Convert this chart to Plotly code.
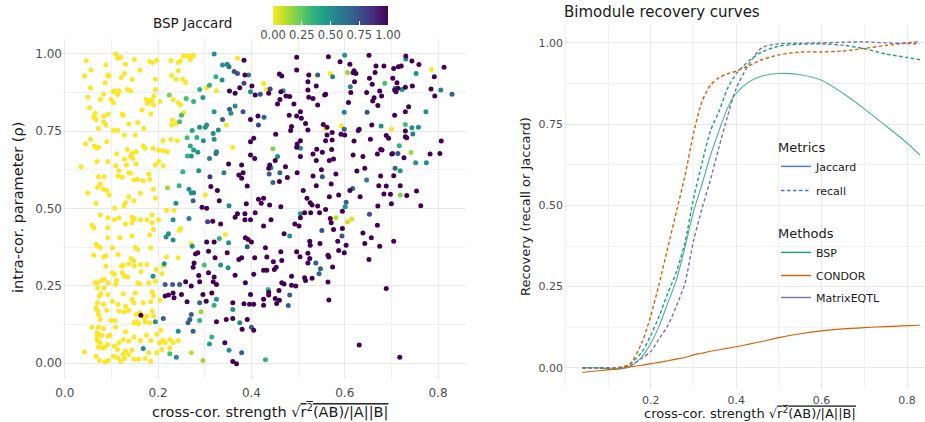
import plotly.graph_objects as go

W, H = 925, 422

# ------------------------------------------------------------------
# Left panel: simulated bimodules, coloured by BSP Jaccard
# ------------------------------------------------------------------
# modules not recovered by BSP (Jaccard 0)
low_x = [
    .109, .120, .113, .046, .088, .130, .149, .182, .187, .197,
    .227, .243, .248, .255, .264, .271, .276, .269, .056, .092,
    .095, .128, .161, .042, .121, .144, .194, .229, .243, .239,
    .253, .259, .086, .055, .106, .113, .104, .134, .116, .141,
    .194, .083, .049, .076, .099, .104, .174, .177, .183, .187,
    .190, .204, .232, .243, .191, .053, .065, .062, .067, .083,
    .093, .123, .125, .165, .184, .083, .088, .137, .156, .072,
    .104, .113, .169, .128, .151, .231, .229, .255, .248, .239,
    .325, .304, .055, .044, .063, .069, .072, .090, .111, .134,
    .168, .172, .153, .189, .210, .227, .241, .201, .211, .220,
    .144, .141, .128, .146, .069, .092, .035, .109, .132, .153,
    .194, .201, .211, .072, .076, .083, .070, .090, .095, .049,
    .116, .114, .123, .137, .141, .148, .156, .168, .180, .182,
    .162, .190, .137, .130, .127, .148, .107, .194, .067, .360,
    .346, .301, .084,
    .370, .426, .432, .700, .558, .593, .786, .569,
    .076, .092, .106, .116, .144, .149, .162, .176, .187, .187,
    .190, .201, .218, .234, .058, .062, .092, .130, .144, .245,
    .248, .182, .092, .118, .144, .067, .070, .076, .102, .151,
    .156, .184, .114, .062, .083, .088, .142, .148, .218, .243,
    .088, .121, .125, .137, .149, .162, .176, .211, .102, .106,
    .123, .128, .135, .163, .196, .208, .079, .084, .070, .065,
    .093, .111, .156, .161, .180, .194, .070, .084, .092, .077,
    .109, .125, .151, .187, .190, .074, .070, .083, .067, .090,
    .102, .114, .130, .144, .148, .168, .184, .204, .070, .072,
    .076, .099, .107, .116, .127, .137, .153, .161, .170, .176,
    .187, .190, .148, .153, .158, .172, .182, .058, .072, .083,
    .069, .070, .079, .069, .070, .076, .092, .097, .109, .116,
    .125, .130, .137, .148, .162, .175, .184, .197, .206, .225,
    .243, .210, .203, .232, .072, .081, .086, .092, .106, .113,
    .130, .144, .042, .067, .074, .086, .093, .113, .125, .128,
    .137, .148, .158, .172, .180, .184, .104, .120, .215, .197,
    .208, .225, .344, .271,
]
low_rho = [
    1.000, .989, .986, .978, .964, .967, .982, .975, .972, .980,
    .978, .972, .978, .993, .993, .993, .994, .982, .948, .932,
    .929, .937, .948, .929, .924, .918, .918, .930, .946, .918,
    .918, .908, .907, .891, .881, .869, .878, .885, .881, .881,
    .885, .870, .860, .853, .853, .842, .853, .840, .851, .849,
    .835, .846, .853, .842, .864, .826, .808, .795, .788, .799,
    .806, .806, .802, .819, .806, .781, .770, .773, .778, .759,
    .752, .752, .759, .738, .738, .786, .770, .810, .835, .775,
    .881, .891, .724, .709, .702, .695, .698, .716, .676, .691,
    .702, .695, .684, .695, .719, .724, .719, .689, .687, .684,
    .678, .668, .659, .662, .652, .652, .635, .638, .641, .644,
    .641, .652, .638, .603, .579, .562, .569, .558, .544, .549,
    .622, .605, .601, .616, .614, .592, .594, .590, .612, .594,
    .549, .562, .538, .519, .508, .525, .501, .533, .517, .698,
    .770, .544, .603,
    .986, .905, .885, .756, .759, .767, .950, .937,
    .479, .470, .464, .470, .472, .468, .464, .464, .479, .454,
    .432, .464, .494, .494, .446, .438, .438, .450, .454, .429,
    .435, .414, .405, .405, .411, .384, .378, .373, .373, .375,
    .367, .373, .351, .349, .344, .346, .338, .330, .343, .341,
    .314, .314, .316, .321, .314, .319, .319, .314, .292, .287,
    .292, .281, .278, .295, .303, .289, .267, .270, .260, .260,
    .260, .267, .260, .256, .260, .265, .243, .243, .222, .224,
    .254, .224, .227, .231, .217, .217, .195, .190, .179, .170,
    .200, .190, .184, .206, .195, .195, .198, .203, .170, .157,
    .141, .138, .138, .168, .166, .170, .157, .163, .146, .152,
    .168, .152, .130, .134, .127, .134, .130, .116, .116, .112,
    .098, .093, .090, .080, .071, .066, .087, .090, .116, .066,
    .076, .101, .071, .084, .073, .090, .073, .093, .106, .076,
    .073, .073, .066, .066, .052, .049, .052, .060, .055, .044,
    .039, .041, .036, .022, .008, .004, .008, .017, .028, .015,
    .028, .012, .012, .015, .033, .006, .022, .006, .066, .033,
    .044, .049, .416, .386,
]

# modules fully recovered by BSP (Jaccard 1)
high_x = [
    .384, .386, .401, .375, .353, .365, .408, .398, .414, .405,
    .398, .398, .407, .351, .379, .373, .382, .379, .391, .313,
    .327, .294, .304, .331, .389, .415, .421,
    .497, .565, .652, .731, .611, .590, .667, .684, .705, .715,
    .721, .744, .759, .813, .497, .460, .465, .523, .620, .624,
    .618, .653, .665, .703, .712, .792, .521, .539, .621, .659,
    .675, .679, .707, .710, .714, .730, .745, .785, .793, .521,
    .557, .559, .437, .463, .474, .482, .461, .523, .532, .608,
    .647, .613, .663, .660, .671, .737, .730, .707, .542, .491,
    .456, .505, .481, .497, .507, .516, .554, .562, .658, .631,
    .629, .486, .484, .521, .452, .573, .592, .730, .730, .733,
    .807, .689, .694, .562, .559, .573, .505, .498, .497, .540,
    .572, .600, .620, .655, .677, .680, .701, .727, .532, .552,
    .576, .618, .639, .670, .783, .804, .539, .567, .451, .439,
    .473, .505, .437, .498, .532, .581, .550, .626, .643, .677,
    .705, .460, .477, .539, .571, .673, .689, .719, .733, .698,
    .684, .611, .587, .511, .567, .633, .519, .526, .530, .542,
    .439, .463, .671, .700, .754, .763, .426,
    .317, .334, .365, .370, .386, .386, .408, .398, .304, .320,
    .387, .393, .400, .280, .285, .308, .322, .348, .379, .373,
    .407, .275, .277, .308, .320, .318, .325, .365, .387, .405,
    .287, .259, .271, .289, .215, .222, .232, .234, .250, .262,
    .296, .303, .315, .360, .384, .398, .396, .405, .163, .325,
    .346, .360, .391, .405, .380, .343, .360, .368,
    .514, .527, .546, .559, .595, .505, .569, .442, .426, .493,
    .502, .571, .576, .595, .670, .639, .657, .470, .525, .526,
    .547, .585, .603, .643, .705, .675, .430, .463, .497, .521,
    .564, .566, .587, .599, .433, .465, .447, .504, .525, .521,
    .574, .652, .453, .449, .433, .426, .486, .514, .516, .530,
    .465, .470, .486, .495, .564, .437, .437, .459, .451, .460,
    .454, .426, .426, .566, .689, .631, .718,
]
high_rho = [
    .980, .932, .896, .891, .880, .873, .867, .788, .799, .727,
    .716, .673, .662, .644, .641, .608, .616, .598, .573, .571,
    .558, .504, .501, .525, .515, .530, .517,
    .989, .991, .996, .993, .967, .975, .961, .961, .953, .959,
    .961, .977, .966, .957, .948, .935, .929, .932, .946, .937,
    .939, .921, .940, .921, .907, .926, .910, .896, .910, .902,
    .880, .864, .883, .878, .889, .892, .896, .887, .864, .883,
    .867, .870, .873, .878, .864, .862, .853, .860, .856, .843,
    .875, .875, .858, .848, .833, .829, .813, .802, .835, .838,
    .838, .813, .802, .799, .792, .775, .772, .763, .770, .756,
    .752, .765, .752, .754, .740, .746, .740, .751, .732, .729,
    .718, .736, .727, .738, .719, .722, .719, .709, .698, .692,
    .691, .738, .718, .724, .691, .689, .676, .664, .676, .682,
    .660, .673, .668, .676, .676, .678, .655, .655, .655, .641,
    .635, .668, .630, .616, .605, .612, .625, .621, .630, .605,
    .606, .587, .600, .574, .579, .574, .573, .574, .542, .546,
    .547, .558, .544, .558, .538, .538, .533, .519, .511, .508,
    .511, .506, .508, .515, .557, .509, .533,
    .459, .450, .472, .483, .483, .464, .486, .464, .392, .392,
    .405, .400, .392, .353, .357, .362, .341, .357, .341, .335,
    .341, .310, .324, .292, .278, .263, .254, .284, .260, .287,
    .283, .263, .249, .263, .217, .220, .227, .211, .222, .198,
    .222, .200, .227, .195, .192, .222, .190, .190, .155, .134,
    .141, .144, .141, .106, .109, .066, .005, -.002,
    .486, .486, .486, .497, .491, .470, .468, .464, .443, .450,
    .443, .454, .432, .435, .446, .421, .405, .418, .394, .381,
    .387, .394, .381, .387, .394, .378, .373, .360, .360, .355,
    .349, .343, .364, .357, .343, .332, .328, .344, .338, .324,
    .311, .335, .310, .303, .300, .300, .281, .276, .267, .274,
    .260, .256, .252, .249, .262, .229, .220, .235, .209, .203,
    .193, .206, .187, .204, .241, .058, .019,
]

# modules with partial recovery (intermediate Jaccard)
mid_x = [
    .320, .338, .348, .352, .363, .370, .394, .337, .324, .384,
    .398, .419, .310, .289, .296, .276, .260, .224, .365, .353,
    .356, .382, .320, .250, .246, .338, .415, .304, .301, .289,
    .273, .329, .318, .283, .262, .297, .320, .324, .325, .310,
    .269, .276, .285, .271, .263, .253, .287, .341, .311, .266,
    .271, .276, .245, .220, .275, .238, .352,
    .440, .648, .703, .714, .552, .708, .617, .603, .600, .731,
    .753, .606, .574, .542, .686, .612, .708, .723, .806, .830,
    .468, .599, .774, .678, .730, .744, .758, .746, .599, .717,
    .742, .446, .505, .456, .442, .752, .775, .719, .438, .461,
    .446, .427, .647, .719, .601,
    .232, .266, .217, .222, .232, .306, .331, .351, .391, .273,
    .299, .334, .350, .213, .189, .215, .231, .246, .325, .320,
    .289, .360, .292, .271, .268, .264, .289, .211, .194, .375,
    .400, .275, .243, .315, .310, .352, .379, .168, .225, .239,
    .296, .271,
    .505, .581, .615, .606, .653, .551, .594, .482, .538, .548,
    .545, .436, .482, .479, .430,
]
mid_rho = [
    1.000, .964, .967, .959, .943, .937, .932, .916, .926, .905,
    .878, .870, .899, .885, .859, .846, .856, .867, .832, .821,
    .808, .813, .813, .802, .781, .788, .770, .770, .763, .763,
    .752, .754, .743, .730, .729, .719, .724, .678, .684, .662,
    .702, .689, .682, .670, .670, .619, .622, .616, .603, .562,
    .550, .551, .574, .567, .525, .517, .509,
    .887, .811, .678, .678, .603, .630, .565, .520, .996, .984,
    .937, .940, .926, .932, .905, .894, .889, .885, .883, .870,
    .881, .811, .813, .767, .772, .761, .763, .741, .756, .703,
    .681, .693, .695, .668, .632, .648, .648, .622, .612, .616,
    .584, .795, .592, .544, .506,
    .464, .468, .408, .418, .398, .457, .403, .389, .376, .378,
    .317, .317, .308, .321, .281, .254, .254, .254, .206, .187,
    .195, .173, .166, .157, .141, .130, .138, .144, .134, .130,
    .116, .103, .103, .084, .062, .041, .033, .047, .030, .019,
    .008, .033,
    .483, .470, .466, .456, .481, .429, .411, .411, .324, .305,
    .289, .238, .220, .186, .011,
]
mid_jaccard = [
    .5, .5, .5, .6, .75, .75, .55, .5, .35, .8,
    .5, .75, .35, .35, .45, .35, .3, .2, .5, .7,
    .5, .75, .45, .3, .3, .7, .8, .5, .5, .5,
    .4, .5, .5, .35, .3, .5, .5, .7, .55, .55,
    .4, .45, .5, .5, .35, .35, .5, .55, .85, .5,
    .5, .55, .35, .15, .7, .5, .55,
    .8, .75, .75, .75, .75, .7, .7, .7, .5, .5,
    .5, .15, .55, .7, .3, .55, .5, .5, .55, .7,
    .55, .55, .5, .5, .3, .5, .5, .55, .7, .35,
    .15, .2, .5, .5, .5, .5, .5, .5, .7, .7,
    .7, .7, .55, .2, .5,
    .5, .55, .5, .5, .5, .8, .35, .5, .75, .5,
    .3, .5, .5, .5, .5, .7, .7, .7, .5, .35,
    .7, .5, .15, .7, .7, .7, .35, .7, .5, .55,
    .7, .7, .5, .35, .45, .5, .7, .5, .3, .5,
    .15, .1,
    .5, .1, .05, .08, .75, .75, .75, .5, .7, .7,
    .7, .35, .7, .7, .35,
]

LOW_JACCARD, HIGH_JACCARD = 0.0, 1.0

# ------------------------------------------------------------------
# Right panel: smoothed recovery curves
# ------------------------------------------------------------------
strength_grid = [0.04, 0.08, 0.12, 0.15, 0.18, 0.20, 0.22, 0.24, 0.26, 0.28,
                 0.30, 0.32, 0.34, 0.36, 0.38, 0.40, 0.43, 0.46, 0.50, 0.55,
                 0.60, 0.65, 0.70, 0.75, 0.80, 0.83]
bsp_recall = [0.0, 0.0, 0.0, 0.01, 0.05, 0.10, 0.16, 0.23, 0.295, 0.385,
              0.52, 0.63, 0.73, 0.79, 0.86, 0.905, 0.945, 0.972, 0.99, 0.996,
              0.997, 0.993, 0.982, 0.966, 0.955, 0.948]
bsp_jaccard = [0.0, 0.0, -0.004, 0.003, 0.035, 0.075, 0.13, 0.20, 0.27, 0.37,
               0.48, 0.565, 0.655, 0.73, 0.80, 0.845, 0.88, 0.898, 0.906, 0.902,
               0.885, 0.845, 0.797, 0.745, 0.692, 0.655]
condor_recall = [0.0, 0.0, 0.0, 0.01, 0.08, 0.16, 0.26, 0.37, 0.48, 0.59,
                 0.72, 0.82, 0.87, 0.893, 0.905, 0.913, 0.93, 0.948, 0.963, 0.972,
                 0.972, 0.975, 0.983, 0.992, 1.0, 1.004]
condor_jaccard = [-0.014, -0.009, -0.003, 0.003, 0.008, 0.013, 0.017, 0.022, 0.027, 0.032,
                  0.040, 0.045, 0.051, 0.056, 0.060, 0.065, 0.073, 0.081, 0.093, 0.105,
                  0.114, 0.120, 0.124, 0.127, 0.130, 0.131]
meqtl_recall = [0.0, 0.0, 0.0, 0.005, 0.03, 0.05, 0.09, 0.13, 0.19, 0.26,
                0.39, 0.49, 0.58, 0.68, 0.775, 0.86, 0.935, 0.985, 0.997, 0.999,
                1.0, 1.002, 1.003, 1.0, 0.998, 0.997]

method_colors = {"BSP": "#1b9e77", "CONDOR": "#d95f02", "MatrixEQTL": "#7570b3"}
metric_color = "#4f71d2"
DASH = "3.5px,2.5px"

FONT = "DejaVu Sans"
GRID = "#e9e9e9"
MINOR = "#f1f1f1"
TICK = "#4d4d4d"
INK = "#1a1a1a"


def px_x(p):
    return p / W


def px_y(p):
    return 1 - p / H


fig = go.Figure()

xs = low_x + mid_x + high_x
rhos = low_rho + mid_rho + high_rho
jac = [LOW_JACCARD] * len(low_x) + mid_jaccard + [HIGH_JACCARD] * len(high_x)

fig.add_trace(go.Scatter(
    x=xs, y=rhos, mode="markers", showlegend=False, hoverinfo="skip",
    xaxis="x", yaxis="y",
    marker=dict(
        color=jac, colorscale="Viridis", reversescale=True, cmin=0, cmax=1, size=5,
        line=dict(width=0),
        colorbar=dict(
            orientation="h", x=px_x(273), xanchor="left", y=px_y(6), yanchor="top",
            len=115, lenmode="pixels", thickness=19, thicknessmode="pixels",
            outlinewidth=0, xpad=0, ypad=0,
            tickvals=[0, 0.25, 0.5, 0.75, 1.0],
            ticktext=["0.00", "0.25", "0.50", "0.75", "1.00"],
            ticks="inside", ticklen=4, tickcolor="white", tickwidth=1,
            tickfont=dict(family=FONT, size=11.5, color=TICK),
        ),
    ),
))

curves = [
    ("BSP", bsp_recall, "recall"),
    ("CONDOR", condor_recall, "recall"),
    ("MatrixEQTL", meqtl_recall, "recall"),
    ("BSP", bsp_jaccard, "Jaccard"),
    ("CONDOR", condor_jaccard, "Jaccard"),
]
for method, vals, metric in curves:
    fig.add_trace(go.Scatter(
        x=strength_grid, y=vals, mode="lines", showlegend=False, hoverinfo="skip",
        xaxis="x2", yaxis="y2",
        opacity=0.8 if metric == "Jaccard" and method == "BSP" else 1.0,
        line=dict(color=method_colors[method], shape="spline", smoothing=0.7,
                  width=1.1 if metric == "Jaccard" else 1.4,
                  dash="solid" if metric == "Jaccard" else DASH),
    ))

# legend keys, one small legend box per entry so the row spacing follows the layout
legend_keys = [
    ("Jaccard", metric_color, "solid", "legend"),
    ("recall", metric_color, DASH, "legend2"),
    ("BSP", method_colors["BSP"], "solid", "legend3"),
    ("CONDOR", method_colors["CONDOR"], "solid", "legend4"),
    ("MatrixEQTL", method_colors["MatrixEQTL"], "solid", "legend5"),
]
for name, col, dash, leg in legend_keys:
    fig.add_trace(go.Scatter(
        x=[None], y=[None], mode="lines", name=name, legend=leg,
        xaxis="x2", yaxis="y2",
        line=dict(color=col, width=1.4, dash=dash),
    ))

axis_common = dict(
    showline=False, zeroline=False, ticks="", showgrid=True,
    gridcolor=GRID, gridwidth=1.2, automargin=False,
)


def legend_box(top, title=None):
    box = dict(
        x=px_x(776), y=px_y(top), xanchor="left", yanchor="top",
        bgcolor="rgba(0,0,0,0)", itemwidth=30,
        font=dict(family=FONT, size=11, color=INK),
    )
    if title:
        box["title"] = dict(text=title, font=dict(family=FONT, size=13, color=INK))
    return box


sqrt_text = ("cross-cor. strength √<span style='text-decoration:overline'>"
             "r<sup>2</sup>(AB)/|A||B|</span>")


def label(text, x, y, size, **kw):
    return dict(text=text, x=px_x(x), y=px_y(y), xref="paper", yref="paper",
                xanchor=kw.pop("xanchor", "center"), yanchor="middle",
                showarrow=False, font=dict(size=size, color=INK), **kw)


fig.update_layout(
    width=W, height=H,
    margin=dict(l=0, r=0, t=0, b=0, pad=0),
    paper_bgcolor="white", plot_bgcolor="white",
    font=dict(family=FONT, color=INK),
    xaxis=dict(
        domain=[px_x(63), px_x(466)], range=[-0.004, 0.86], anchor="y",
        tickvals=[0, 0.2, 0.4, 0.6, 0.8], ticktext=["0.0", "0.2", "0.4", "0.6", "0.8"],
        tickfont=dict(size=12, color=TICK), ticklabelstandoff=5,
        minor=dict(tickvals=[0.1, 0.3, 0.5, 0.7], showgrid=True, gridcolor=MINOR, gridwidth=0.8),
        **axis_common,
    ),
    yaxis=dict(
        domain=[px_y(378.5), px_y(38.5)], range=[-0.05, 1.05], anchor="x",
        tickvals=[0, 0.25, 0.5, 0.75, 1.0], ticktext=["0.00", "0.25", "0.50", "0.75", "1.00"],
        tickfont=dict(size=12, color=TICK),
        minor=dict(tickvals=[0.125, 0.375, 0.625, 0.875], showgrid=True, gridcolor=MINOR, gridwidth=0.8),
        **axis_common,
    ),
    xaxis2=dict(
        domain=[px_x(564), 1.0], range=[-0.003, 0.842], anchor="y2",
        tickvals=[0.2, 0.4, 0.6, 0.8], ticktext=["0.2", "0.4", "0.6", "0.8"],
        tickfont=dict(size=11, color=TICK), ticklabelstandoff=3,
        minor=dict(tickvals=[0.0, 0.1, 0.3, 0.5, 0.7], showgrid=True, gridcolor=MINOR, gridwidth=0.8),
        **axis_common,
    ),
    yaxis2=dict(
        domain=[px_y(389), px_y(25)], range=[-0.065, 1.055], anchor="x2",
        tickvals=[0, 0.25, 0.5, 0.75, 1.0], ticktext=["0.00", "0.25", "0.50", "0.75", "1.00"],
        tickfont=dict(size=11, color=TICK),
        minor=dict(tickvals=[0.125, 0.375, 0.625, 0.875], showgrid=True, gridcolor=MINOR, gridwidth=0.8),
        **axis_common,
    ),
    legend=legend_box(135, "Metrics"),
    legend2=legend_box(176),
    legend3=legend_box(221, "Methods"),
    legend4=legend_box(261),
    legend5=legend_box(283),
    annotations=[
        label("BSP Jaccard", 192, 23, 13.5),
        label("Bimodule recovery curves", 562, 12, 15, xanchor="left"),
        label(sqrt_text, 270, 411, 14.5),
        label("intra-cor. parameter (ρ)", 18, 208, 14.5, textangle=-90),
        label(sqrt_text, 750, 412.5, 13),
        label("Recovery (recall or Jaccard)", 525, 207, 13, textangle=-90),
    ],
)

fig.write_html("out.html")
